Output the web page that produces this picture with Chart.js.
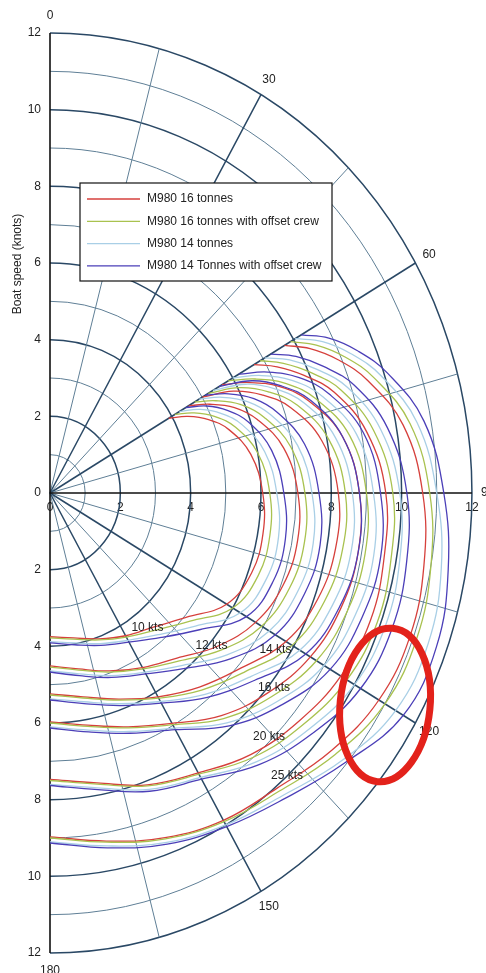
<!DOCTYPE html>
<html>
<head>
<meta charset="utf-8">
<script src="https://cdn.jsdelivr.net/npm/chart.js@4.4.0/dist/chart.umd.min.js"></script>
<style>
  html, body { margin: 0; padding: 0; background: #fff; }
  #wrap { width: 486px; height: 973px; position: relative; }
</style>
</head>
<body>
<div id="wrap"><canvas id="polar"></canvas></div>
<script>
const angles = [60, 63, 67, 72, 80, 90, 100, 110, 120, 130, 140, 150, 160, 170, 180];
const windSpeeds = [10, 12, 14, 16, 20, 25];
const speedTicks = [0, 2, 4, 6, 8, 10, 12];
const angleTicks = [0, 30, 60, 90, 120, 150, 180];

// boat speed (knots), one row per wind speed
const m980_16t = [
  [3.9, 4.4, 4.9, 5.35, 5.8, 6.05, 6.15, 6.1, 5.8, 5.05, 4.57, 4.3, 4.05, 3.84, 3.75],
  [4.55, 5.1, 5.7, 6.2, 6.75, 7.05, 7.15, 7.05, 6.75, 6.22, 5.62, 5.26, 4.94, 4.66, 4.51],
  [5.0, 5.85, 6.55, 7.2, 7.85, 8.2, 8.25, 8.1, 7.75, 7.1, 6.61, 6.14, 5.72, 5.4, 5.24],
  [5.65, 6.35, 7.1, 7.75, 8.45, 8.8, 8.9, 8.8, 8.55, 8.1, 7.58, 6.94, 6.49, 6.15, 5.97],
  [6.7, 7.25, 7.85, 8.5, 9.15, 9.55, 9.65, 9.7, 9.55, 9.25, 8.9, 8.43, 8.1, 7.68, 7.47],
  [7.7, 8.3, 8.9, 9.5, 10.2, 10.6, 10.8, 10.9, 10.8, 10.45, 10.05, 9.86, 9.57, 9.22, 8.97]
];
const m980_16t_offset = [
  [4.1, 4.6, 5.1, 5.55, 6.0, 6.25, 6.35, 6.3, 6.0, 5.2, 4.67, 4.34, 4.08, 3.87, 3.78],
  [4.75, 5.3, 5.9, 6.4, 6.95, 7.25, 7.35, 7.25, 6.95, 6.37, 5.72, 5.3, 4.97, 4.69, 4.54],
  [5.2, 6.05, 6.75, 7.4, 8.05, 8.4, 8.45, 8.3, 7.95, 7.25, 6.71, 6.18, 5.75, 5.43, 5.27],
  [5.85, 6.55, 7.3, 7.95, 8.65, 9.0, 9.1, 9.0, 8.75, 8.25, 7.68, 6.98, 6.52, 6.18, 6.0],
  [6.9, 7.45, 8.05, 8.7, 9.35, 9.75, 9.85, 9.9, 9.75, 9.4, 9.0, 8.47, 8.13, 7.71, 7.5],
  [7.9, 8.5, 9.1, 9.7, 10.4, 10.8, 11.0, 11.1, 11.0, 10.6, 10.15, 9.9, 9.6, 9.25, 9.0]
];
const m980_14t = [
  [4.25, 4.8, 5.3, 5.75, 6.2, 6.45, 6.6, 6.55, 6.25, 5.4, 4.82, 4.44, 4.18, 3.97, 3.88],
  [4.9, 5.5, 6.1, 6.6, 7.15, 7.45, 7.6, 7.5, 7.2, 6.57, 5.87, 5.4, 5.07, 4.79, 4.64],
  [5.35, 6.25, 6.95, 7.6, 8.25, 8.6, 8.7, 8.55, 8.2, 7.45, 6.86, 6.28, 5.85, 5.53, 5.37],
  [6.0, 6.75, 7.5, 8.15, 8.85, 9.2, 9.35, 9.25, 9.0, 8.45, 7.83, 7.08, 6.62, 6.28, 6.1],
  [7.05, 7.65, 8.25, 8.9, 9.55, 9.95, 10.1, 10.15, 10.0, 9.6, 9.15, 8.57, 8.23, 7.81, 7.6],
  [8.05, 8.7, 9.3, 9.9, 10.6, 11.0, 11.3, 11.45, 11.35, 10.85, 10.3, 10.0, 9.7, 9.35, 9.1]
];
const m980_14t_offset = [
  [4.45, 5.0, 5.5, 5.95, 6.4, 6.65, 6.8, 6.75, 6.45, 5.55, 4.92, 4.49, 4.23, 4.02, 3.91],
  [5.1, 5.7, 6.3, 6.8, 7.35, 7.65, 7.8, 7.7, 7.4, 6.72, 5.97, 5.45, 5.12, 4.84, 4.67],
  [5.55, 6.45, 7.15, 7.8, 8.45, 8.8, 8.9, 8.75, 8.4, 7.6, 6.96, 6.33, 5.9, 5.58, 5.4],
  [6.2, 6.95, 7.7, 8.35, 9.05, 9.4, 9.55, 9.45, 9.2, 8.6, 7.93, 7.13, 6.67, 6.33, 6.13],
  [7.25, 7.85, 8.45, 9.1, 9.75, 10.15, 10.3, 10.35, 10.2, 9.75, 9.25, 8.62, 8.28, 7.86, 7.63],
  [8.25, 8.9, 9.5, 10.1, 10.8, 11.2, 11.5, 11.7, 11.6, 10.95, 10.4, 10.05, 9.75, 9.4, 9.13]
];

const seriesNames = ['M980 16 tonnes', 'M980 16 tonnes with offset crew', 'M980 14 tonnes', 'M980 14 Tonnes with offset crew'];
const seriesData = [m980_16t, m980_16t_offset, m980_14t, m980_14t_offset];
const seriesColors = ['#d6403c', '#a9c24f', '#a9cfe6', '#4b3fb8'];

// wind speed labels, placed in data units (x, y)
const windLabels = [
  { text: '10 kts', x: 2.77, y: -3.51 },
  { text: '12 kts', x: 4.59, y: -3.99 },
  { text: '14 kts', x: 6.41, y: -4.09 },
  { text: '16 kts', x: 6.37, y: -5.09 },
  { text: '20 kts', x: 6.23, y: -6.36 },
  { text: '25 kts', x: 6.74, y: -7.37 }
];

const FONT = '"Liberation Sans", Arial, Helvetica, sans-serif';
Chart.defaults.font.family = FONT;
Chart.defaults.font.size = 12;
Chart.defaults.color = '#222';

const rad = d => d * Math.PI / 180;

// one line per (config, wind speed)
const datasets = [];
seriesData.forEach((rows, si) => {
  rows.forEach((row, wi) => {
    datasets.push({
      label: seriesNames[si] + ' - ' + windSpeeds[wi] + ' kts',
      data: row.map((v, i) => ({ x: v * Math.sin(rad(angles[i])), y: v * Math.cos(rad(angles[i])) })),
      borderColor: seriesColors[si],
      borderWidth: 1.3,
      showLine: true,
      pointRadius: 0,
      tension: 0.4,
      fill: false,
      order: 3 - si
    });
  });
});

const polarGrid = {
  id: 'polarGrid',
  beforeDatasetsDraw(chart) {
    const { ctx, scales: { x, y } } = chart;
    const cx = x.getPixelForValue(0), cy = y.getPixelForValue(0);
    const kx = x.getPixelForValue(1) - cx, ky = cy - y.getPixelForValue(1);
    ctx.save();
    for (let r = 1; r <= 12; r++) {
      ctx.beginPath();
      ctx.ellipse(cx, cy, r * kx, r * ky, 0, -Math.PI / 2, Math.PI / 2);
      ctx.strokeStyle = r % 2 ? '#5f7f96' : '#2a4865';
      ctx.lineWidth = r % 2 ? 1 : 1.5;
      ctx.stroke();
    }
    for (let a = 15; a < 180; a += 15) {
      if (a === 90) continue;
      ctx.beginPath();
      ctx.moveTo(cx, cy);
      ctx.lineTo(cx + 12 * kx * Math.sin(rad(a)), cy - 12 * ky * Math.cos(rad(a)));
      ctx.strokeStyle = a % 30 ? '#5f7f96' : '#2a4865';
      ctx.lineWidth = a % 30 ? 1 : 1.5;
      ctx.stroke();
    }
    // axes
    ctx.strokeStyle = '#111';
    ctx.lineWidth = 1.6;
    ctx.beginPath();
    ctx.moveTo(cx, y.getPixelForValue(12));
    ctx.lineTo(cx, y.getPixelForValue(-12));
    ctx.moveTo(cx, cy);
    ctx.lineTo(x.getPixelForValue(12), cy);
    ctx.stroke();
    ctx.restore();
  },
  afterDatasetsDraw(chart) {
    const { ctx, scales: { x, y } } = chart;
    const cx = x.getPixelForValue(0), cy = y.getPixelForValue(0);
    const kx = x.getPixelForValue(1) - cx, ky = cy - y.getPixelForValue(1);
    ctx.save();
    ctx.font = '12px ' + FONT;
    ctx.fillStyle = '#222';
    ctx.textAlign = 'center';
    ctx.textBaseline = 'middle';

    // angle labels just outside the outer circle
    angleTicks.forEach(a => {
      ctx.fillText(String(a), cx + 12.45 * kx * Math.sin(rad(a)), cy - 12.45 * ky * Math.cos(rad(a)));
    });

    // wind speed labels
    windLabels.forEach(l => ctx.fillText(l.text, x.getPixelForValue(l.x), y.getPixelForValue(l.y)));

    // y axis title
    ctx.save();
    ctx.translate(18, 264);
    ctx.rotate(-Math.PI / 2);
    ctx.fillText('Boat speed (knots)', 0, 0);
    ctx.restore();

    // red hand-drawn ellipse
    ctx.beginPath();
    ctx.ellipse(x.getPixelForValue(9.53), y.getPixelForValue(-5.53), 1.28 * kx, 2.01 * ky, 0.1, 0, Math.PI * 2);
    ctx.strokeStyle = '#e3221b';
    ctx.lineWidth = 7;
    ctx.stroke();

    // legend box
    const lx = 80, ly = 183, lw = 252, lh = 98;
    ctx.fillStyle = '#fff';
    ctx.fillRect(lx, ly, lw, lh);
    ctx.strokeStyle = '#111';
    ctx.lineWidth = 1.2;
    ctx.strokeRect(lx, ly, lw, lh);
    ctx.textAlign = 'left';
    seriesNames.forEach((name, i) => {
      const ry = ly + 16 + i * 22.3;
      ctx.beginPath();
      ctx.moveTo(lx + 7, ry);
      ctx.lineTo(lx + 60, ry);
      ctx.strokeStyle = seriesColors[i];
      ctx.lineWidth = 1.3;
      ctx.stroke();
      ctx.fillStyle = '#222';
      ctx.fillText(name, lx + 67, ry);
    });
    ctx.restore();
  }
};

new Chart(document.getElementById('polar'), {
  type: 'scatter',
  data: { datasets },
  options: {
    responsive: true,
    maintainAspectRatio: false,
    animation: false,
    layout: { padding: { top: 33, bottom: 20, left: 0, right: 0 } },
    plugins: { legend: { display: false }, tooltip: { enabled: false } },
    scales: {
      x: {
        type: 'linear',
        min: 0,
        max: 12.4,
        position: { y: 0 },
        grid: { display: false, drawTicks: false },
        border: { display: false },
        ticks: {
          stepSize: 2,
          includeBounds: false,
          padding: 7,
          color: '#222',
          callback: v => speedTicks.includes(v) ? String(v) : ''
        }
      },
      y: {
        type: 'linear',
        min: -12,
        max: 12,
        position: 'left',
        grid: { display: false, drawTicks: false },
        border: { display: false },
        afterFit: s => { s.width = 50; },
        ticks: {
          stepSize: 2,
          padding: 9,
          color: '#222',
          callback: v => speedTicks.includes(Math.abs(v)) ? String(Math.abs(v)) : ''
        }
      }
    }
  },
  plugins: [polarGrid]
});
</script>
</body>
</html>
